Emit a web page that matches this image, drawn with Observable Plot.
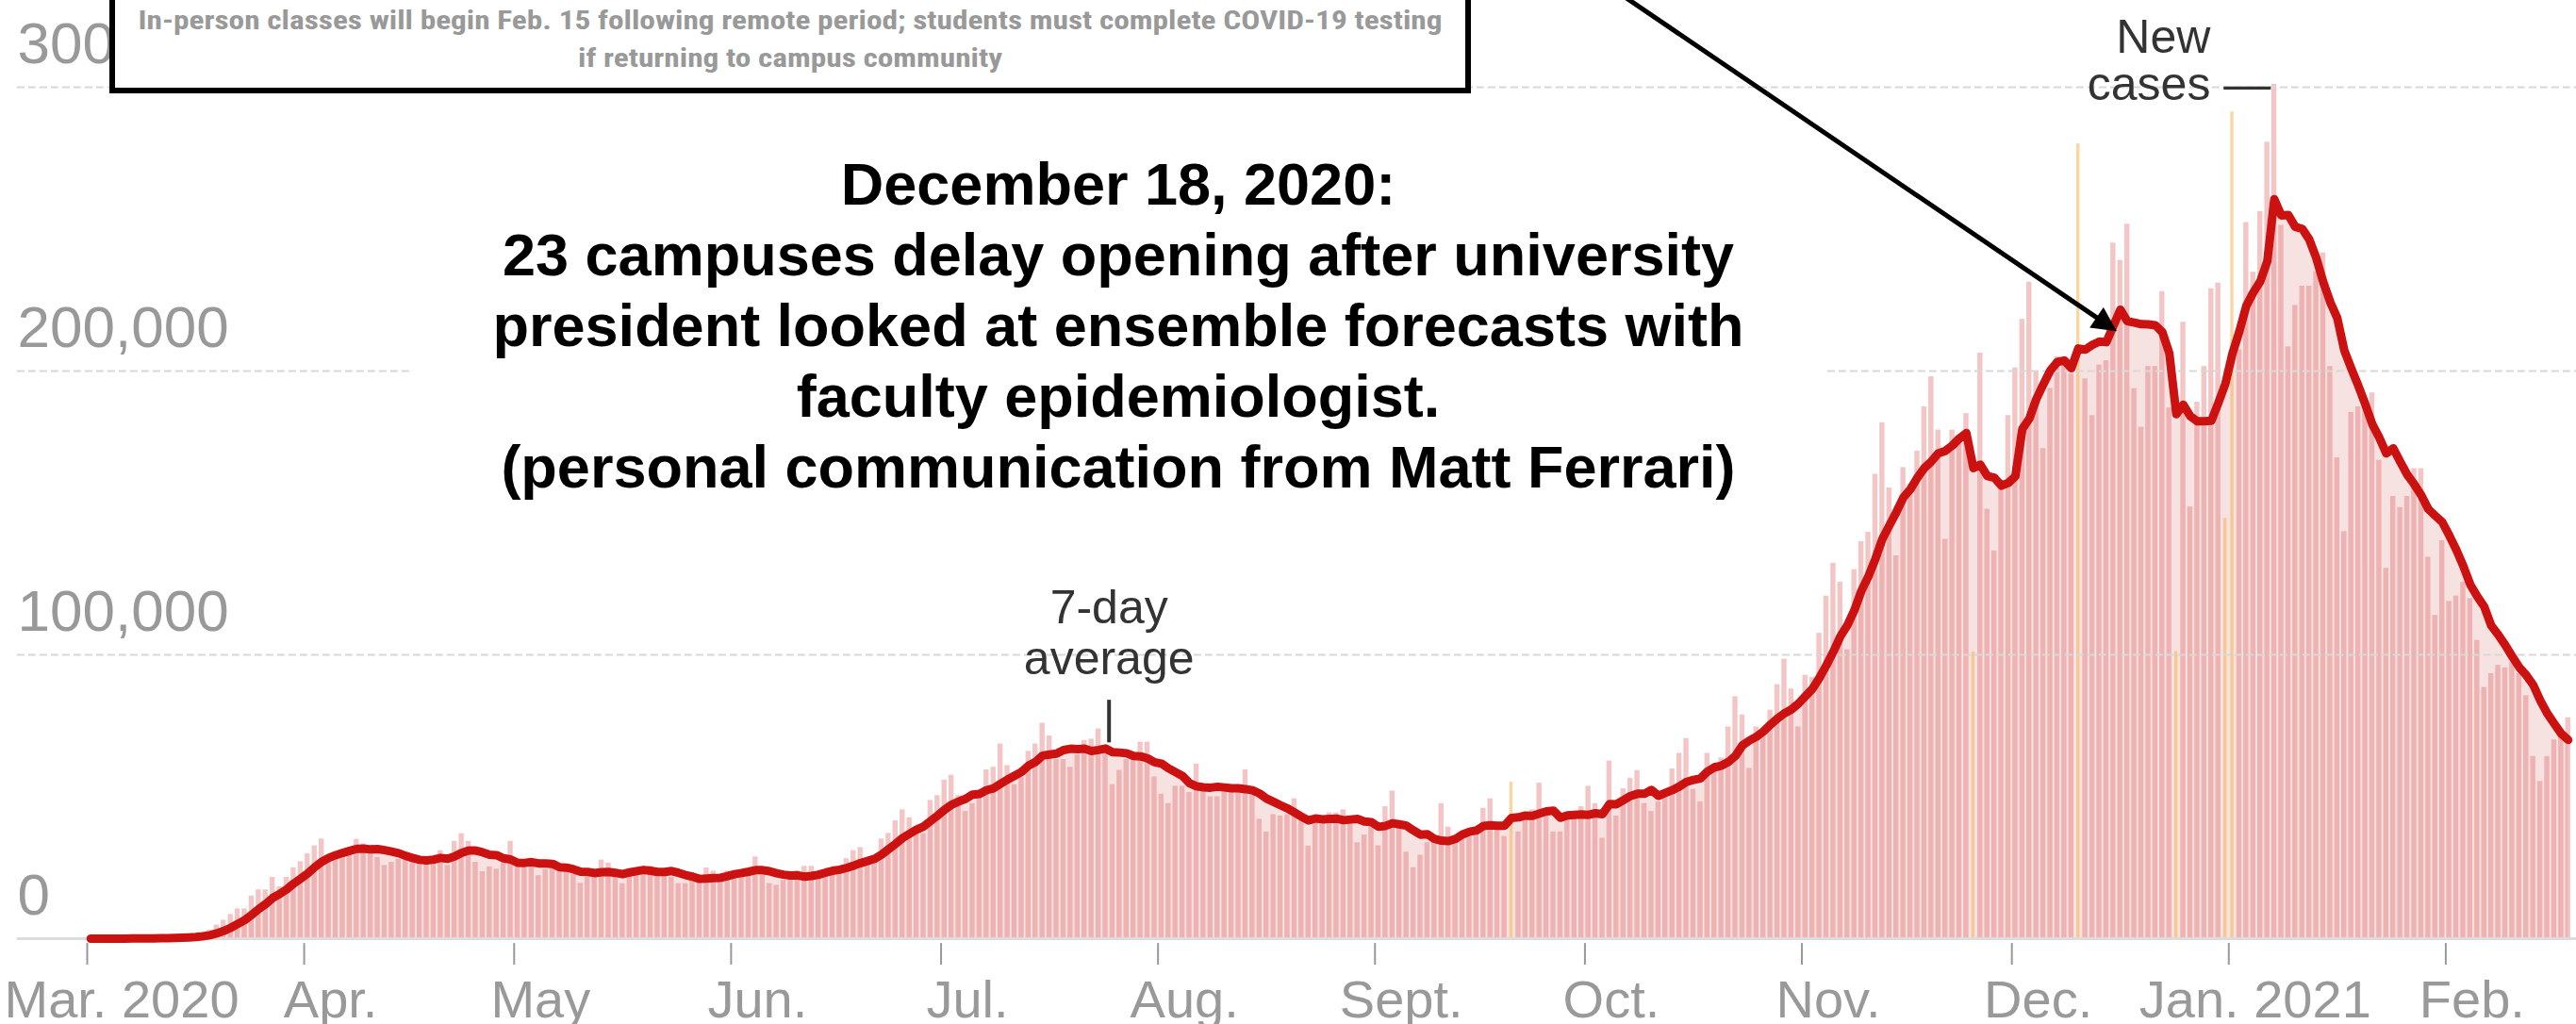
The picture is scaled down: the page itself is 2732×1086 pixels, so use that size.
<!DOCTYPE html>
<html><head><meta charset="utf-8">
<script src="https://cdn.jsdelivr.net/npm/d3@7"></script>
<script src="https://cdn.jsdelivr.net/npm/@observablehq/plot@0.6"></script>
<style>
html,body{margin:0;padding:0;background:#fff;}
#wrap{position:relative;width:2732px;height:1086px;overflow:hidden;background:#fff;}
#chart svg{display:block;max-width:none;}
#topbox{position:absolute;left:116px;top:-20px;width:1444px;height:119px;box-sizing:border-box;border:6px solid #000;background:#fff;}
#topbox .ln{position:absolute;left:0;right:0;text-align:center;white-space:nowrap;font-family:"Liberation Sans Narrow","Roboto Condensed",Roboto,"Liberation Sans",sans-serif;font-weight:bold;font-size:28px;line-height:40px;color:#999;}
#topbox .ln span{display:inline-block;transform-origin:50% 50%;}
#note{position:absolute;left:438px;top:154px;width:1496px;height:406px;background:#fff;}
#note .txt{position:absolute;left:0;right:0;top:4px;text-align:center;font-family:"Liberation Sans",Arial,sans-serif;font-weight:bold;font-size:63px;line-height:75px;color:#000;}
</style></head>
<body>
<div id="wrap">
  <div id="chart"></div>
  <div id="topbox">
    <div class="ln" style="top:16px"><span id="bl1">In-person classes will begin Feb. 15 following remote period; students must complete COVID-19 testing</span></div>
    <div class="ln" style="top:56px"><span id="bl2">if returning to campus community</span></div>
  </div>
  <div id="note"><div class="txt">December 18, 2020:<br>23 campuses delay opening after university<br>president looked at ensemble forecasts with<br>faculty epidemiologist.<br>(personal communication from Matt Ferrari)</div></div>
</div>
<script>
// ---- data ----
const startDate = "2020-03-01";
const domainEnd = "2021-02-19";
// daily new cases, thousands, one per day from startDate
const newCasesThousands = [
0.01,0.02,0.02,0.03,0.05,0.08,0.1,0.12,0.15,0.2,
0.3,0.4,0.5,0.7,0.9,1.2,1.8,3.0,4.8,6.5,
8.5,10.5,10.5,15,17.2,17.2,21.6,18.3,21.6,25,
27.1,29.9,32.7,35.1,27.7,28.5,30.5,32,35,33.4,
33,28.6,25.8,26.9,28,28.6,28,28.6,27,28,
31,25.8,34.3,37,34.3,26.9,23.6,25.3,24.5,26.6,
34.3,26,26.6,25.5,22.2,24.4,25.5,26,24.9,22.7,
19.5,21.6,21.6,27.7,26.6,22.7,19.4,23.8,24.9,24.4,
25.5,23.8,22.7,21.6,19.4,19.4,20.5,20,24.9,23.8,
22.2,23.8,23.8,23.3,23.3,28.8,23.8,19.4,18.8,20.5,
21.1,23.8,25.5,25.5,22.7,23.8,24.9,23.8,28.2,31,
32.1,27.7,29.3,35.1,37.1,41.5,45.4,42.6,38,37,
48.7,50.4,55.9,57.6,50.4,44.8,47.6,50.5,59.5,60.4,
68.6,61,54.3,57,66,68.6,75.9,71.4,63.1,63.1,
60.4,64.8,69.8,70.3,73.9,66.6,54.3,59.3,63.1,63.1,
69.2,69.2,57,50.9,47.6,53.7,53.7,51.5,61.5,54.3,
50,50,52,51.5,51.5,59.5,51.5,42.1,37.6,43.7,
43.2,43.7,49.3,41.5,32.6,42.6,41.5,44.3,44.3,45.4,
43.2,33.8,36.5,40,32.7,46.5,52,40.4,30.5,25,
29.4,33.8,35,47.6,39.3,36,36,36,37.1,45.9,
49.3,38.2,36,55.1,37.6,41.5,45.4,54.8,43.7,37.6,
37.6,43.7,42.6,46.5,53.7,47.6,35.4,62.6,43.2,52.8,
56.5,59.2,47.6,44.8,48.2,50.4,59.8,65.3,70.5,52.6,
48.2,65.3,61,63.7,74.6,85.3,78.8,60,74.6,74,
80.5,89.5,98.5,88,74.6,92.8,92,107.6,120.7,132.3,
125.6,101.8,130,139.9,143.2,163.6,181.8,158.8,134.9,166,
160,171.8,187.4,198,179.2,140.7,179.2,177.5,185,101,
206.3,151.3,136.6,159.6,184.3,201.1,218.2,231.3,200,172.7,
193.9,205,205,199,280,197.2,184.3,202.1,203.6,245.1,
239,251.7,193.8,180.2,201.6,201.6,228,187,101.2,217.2,
152.1,189,201.6,229,231,148.1,291.3,207.5,252.3,234.8,
256.2,280.6,301,251.3,208.5,223.1,229.9,229.9,235,241.6,
201.6,169.4,143.4,185.4,187.4,189.4,192.3,168.5,130.5,155.8,
151.9,155.8,165.6,165.6,134.4,113.9,140.2,118.8,120.7,125.6,
119.8,105.1,88.5,93.4,96.3,95.4,97.3,93.4,85.6,64.2,
55.4,64.2,70,72.9,77.8
];
// days flagged as irregular reporting (drawn in yellow)
const irregularDays = ["2020-09-20","2020-11-25","2020-12-10","2020-12-24","2020-12-31","2021-01-01"];
const monthTicks = ["2020-03-01","2020-04-01","2020-05-01","2020-06-01","2020-07-01","2020-08-01","2020-09-01","2020-10-01","2020-11-01","2020-12-01","2021-01-01","2021-02-01"];
const monthLabels = ["Mar. 2020","Apr.","May","Jun.","Jul.","Aug.","Sept.","Oct.","Nov.","Dec.","Jan. 2021","Feb."];
const yTicks = [0, 100000, 200000, 300000];
const yLabels = ["0", "100,000", "200,000", "300,000"];
const gridStart = "2020-02-20";
const avgLabel = {date: "2020-07-25", from: 69000, to: 84000, text: "7-day\naverage"};
const newLabel = {date: "2021-01-07", value: 300000};
const arrowLine = {fromDate: "2020-10-01T12:00Z", fromValue: 340500, toDate: "2020-12-15T10:00Z", toValue: 215000};

// ---- build table ----
const DAY = 864e5;
const t0 = new Date(startDate + "T00:00Z").getTime();
const table = newCasesThousands.map((v, i) => {
  const date = new Date(t0 + i * DAY);
  const iso = date.toISOString().slice(0, 10);
  return {date, next: new Date(t0 + (i + 1) * DAY), mid: new Date(t0 + (i + 0.5) * DAY), cases: v * 1000, irregular: irregularDays.includes(iso)};
});
const monthTable = monthTicks.map((t, i) => ({date: new Date(t + "T00:00Z"), label: monthLabels[i]}));
const D = s => new Date(s.length > 10 ? s : s + "T00:00Z");

const win = {k: 7, anchor: "end", reduce: "mean", strict: false};

const chart = Plot.plot({
  width: 2732, height: 1086,
  marginLeft: 92, marginRight: 5, marginTop: 92, marginBottom: 91,
  style: {fontFamily: '"Liberation Sans", Arial, sans-serif', background: "white"},
  x: {type: "utc", domain: [D(startDate), D(domainEnd)], axis: null},
  y: {domain: [0, 300000], axis: null},
  marks: [
    Plot.areaY(table, Plot.windowY(win, {x: "mid", y: "cases", fill: "#f7e2e2"})),
    Plot.rectY(table, {filter: d => !d.irregular, x1: "date", x2: "next", y: "cases", fill: "#e05555", fillOpacity: 0.34, insetLeft: 1, insetRight: 1}),
    Plot.rectY(table, {filter: d => d.irregular, x1: "date", x2: "next", y: "cases", fill: "#f5b041", fillOpacity: 0.5, insetLeft: 2, insetRight: 2}),
    Plot.ruleY(yTicks.filter(d => d > 0), {y: d => d, x1: D(gridStart), x2: D("2021-02-25"), stroke: "#d8d8d8", strokeWidth: 2, strokeDasharray: "8,4"}),
    Plot.ruleY([0], {y: d => d, x1: D(gridStart), x2: D("2021-02-25"), stroke: "#dcdcdc", strokeWidth: 3}),
    Plot.lineY(table, Plot.windowY(win, {x: "mid", y: "cases", stroke: "#cc1111", strokeWidth: 9, strokeLinejoin: "round", strokeLinecap: "round"})),
    // y labels
    Plot.text(yTicks, {y: d => d, text: (d, i) => yLabels[i], frameAnchor: "left", textAnchor: "start", lineAnchor: "bottom", dx: -74, dy: -26, fontSize: 62, fill: "#999"}),
    // x ticks
    Plot.ruleX(monthTable, {x: "date", y1: -1700, y2: -9300, stroke: "#999", strokeWidth: 2}),
    // x labels
    Plot.text(monthTable.slice(1), {x: "date", text: "label", frameAnchor: "bottom", lineAnchor: "bottom", dy: 83, dx: 28, fontSize: 56, fill: "#999"}),
    Plot.text(monthTable.slice(0, 1), {x: "date", text: "label", frameAnchor: "bottom", lineAnchor: "bottom", textAnchor: "start", dy: 83, dx: -88, fontSize: 56, fill: "#999"}),
    // 7-day average label
    Plot.ruleX([avgLabel], {x: d => D(d.date), y1: "from", y2: "to", stroke: "#333", strokeWidth: 4}),
    Plot.text([avgLabel], {x: d => D(d.date), y: "to", text: "text", lineAnchor: "bottom", lineHeight: 1.08, dy: -28, fontSize: 50, fill: "#333"}),
    // New cases label
    Plot.text([newLabel], {x: d => D(d.date), y: "value", text: () => "cases \u2014", textAnchor: "end", lineAnchor: "middle", dy: -3, fontSize: 50, fill: "#333"}),
    Plot.text([newLabel], {x: d => D(d.date), y: "value", text: () => "New", textAnchor: "end", lineAnchor: "middle", dx: -64, dy: -53, fontSize: 50, fill: "#333"}),
    // arrow
    Plot.link([arrowLine], {x1: d => D(d.fromDate), y1: "fromValue", x2: d => D(d.toDate), y2: "toValue", stroke: "#000", strokeWidth: 5})
  ]
});
document.getElementById("chart").appendChild(chart);

// filled arrowhead
const ns = "http://www.w3.org/2000/svg";
const defs = document.createElementNS(ns, "defs");
const marker = document.createElementNS(ns, "marker");
marker.setAttribute("id", "arrowhead");
marker.setAttribute("viewBox", "0 0 10 10");
marker.setAttribute("refX", "8");
marker.setAttribute("refY", "5");
marker.setAttribute("markerUnits", "userSpaceOnUse");
marker.setAttribute("markerWidth", "28");
marker.setAttribute("markerHeight", "26");
marker.setAttribute("orient", "auto");
const mp = document.createElementNS(ns, "path");
mp.setAttribute("d", "M0,0L10,5L0,10Z");
mp.setAttribute("fill", "#000");
marker.appendChild(mp);
defs.appendChild(marker);
chart.insertBefore(defs, chart.firstChild);
const linkPath = chart.querySelector('g[aria-label="link"] path') || chart.querySelector('g[aria-label="link"] line');
if (linkPath) linkPath.setAttribute("marker-end", "url(#arrowhead)");

// fit condensed box text to width
const b1 = document.getElementById("bl1"), b2 = document.getElementById("bl2");
const w1 = b1.getBoundingClientRect().width;
const s = 1383 / w1;
b1.style.transform = `scaleX(${s})`;
b2.style.transform = `scaleX(${s})`;
</script>
</body></html>
